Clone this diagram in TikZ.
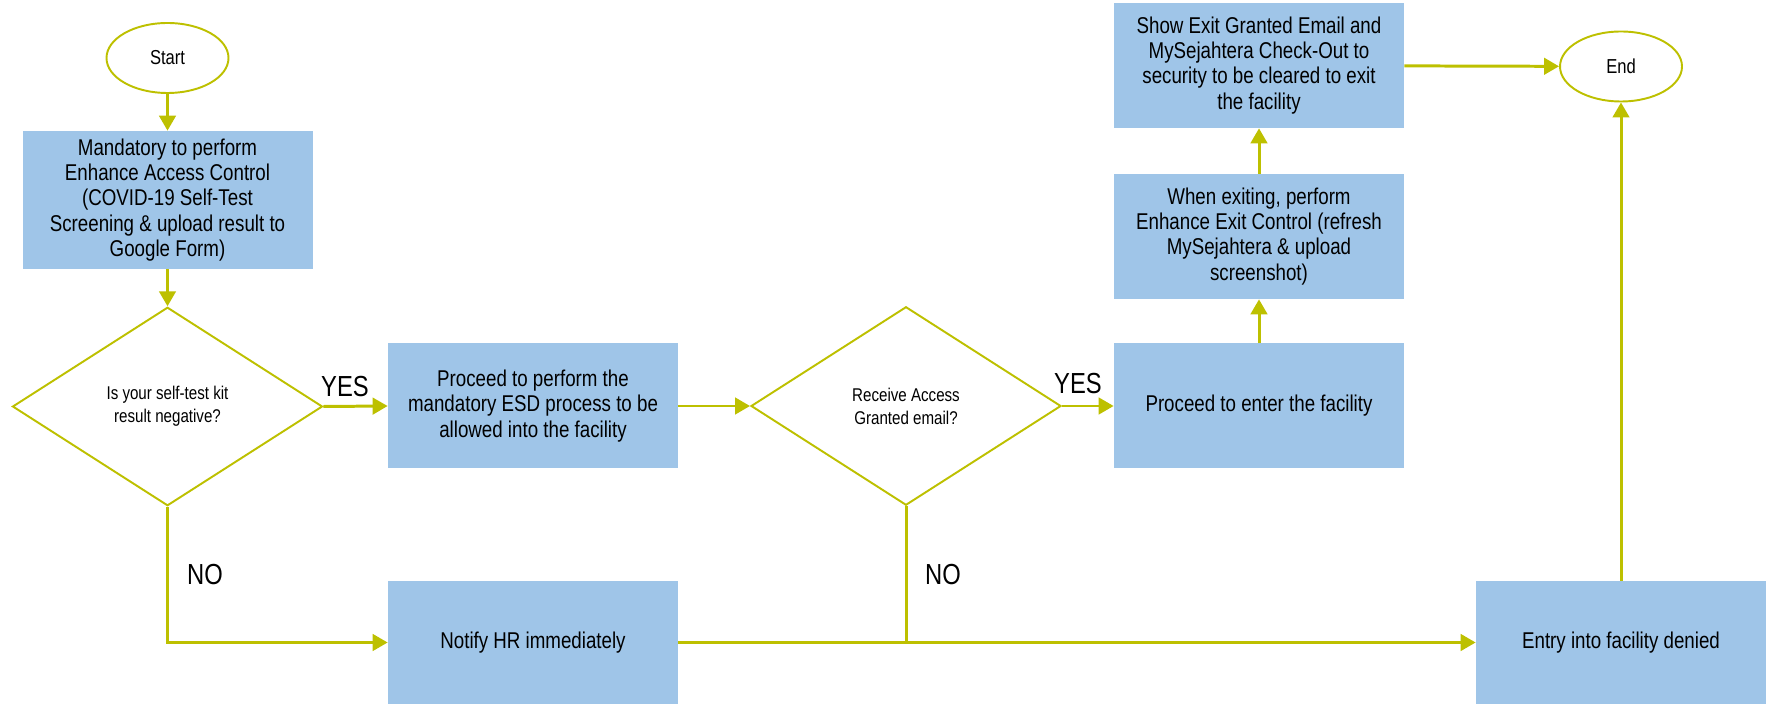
\documentclass[tikz,border=0pt]{standalone}
\usepackage{fontspec}
\setmainfont[FakeStretch=0.82]{Liberation Sans}
\usetikzlibrary{shapes.geometric,arrows.meta}
\definecolor{flowline}{RGB}{189,192,0}
\definecolor{boxfill}{RGB}{159,197,232}
\tikzset{
  stepbox/.style={fill=boxfill, minimum width=5.8cm, minimum height=2.5cm, inner sep=0pt, align=center, font=\fontsize{13}{14.3}\selectfont},
  terminal/.style={ellipse, draw=flowline, line width=1.1pt, minimum width=2.44cm, minimum height=1.4cm, inner sep=0pt, font=\fontsize{11.5}{13}\selectfont},
  decision/.style={diamond, draw=flowline, line width=1.1pt, minimum width=6.2cm, minimum height=3.97cm, inner sep=0pt, aspect=1.56, align=center, font=\fontsize{10.5}{13}\selectfont},
  flow/.style={draw=flowline, line width=1.7pt, -{Triangle[length=0.3cm,width=0.33cm]}},
  plain/.style={draw=flowline, line width=1.7pt},
  answer/.style={inner sep=0pt, font=\fontsize{16.5}{20}\selectfont}
}
\begin{document}
\begin{tikzpicture}
   \useasboundingbox (0,0) rectangle (35.32,14.08);
   \node (start) at (3.35,12.92) [terminal] {Start};
   \node (mand) at (3.35,10.08) [stepbox, minimum height=2.76cm] {Mandatory to perform\\Enhance Access Control\\(COVID-19 Self-Test\\Screening \& upload result to\\Google Form)};
   \node (dec1) at (3.35,5.95) [decision] {Is your self-test kit\\result negative?};
   \node (esd) at (10.66,5.96) [stepbox] {Proceed to perform the\\mandatory ESD process to be\\allowed into the facility};
   \node (notify) at (10.66,1.23) [stepbox, minimum height=2.46cm] {Notify HR immediately};
   \node (dec2) at (18.12,5.96) [decision] {Receive Access\\Granted email?};
   \node (enter) at (25.18,5.96) [stepbox] {Proceed to enter the facility};
   \node (exitctl) at (25.18,9.35) [stepbox] {When exiting, perform\\Enhance Exit Control (refresh\\MySejahtera \& upload\\screenshot)};
   \node (showexit) at (25.18,12.77) [stepbox] {Show Exit Granted Email and\\MySejahtera Check-Out to\\security to be cleared to exit\\the facility};
   \node (finish) at (32.42,12.75) [terminal] {End};
   \node (denied) at (32.42,1.23) [stepbox, minimum height=2.46cm] {Entry into facility denied};
   \node (yes1) at (6.90,6.34) [answer] {YES};
   \node (no1) at (4.10,2.58) [answer] {NO};
   \node (yes2) at (21.56,6.40) [answer] {YES};
   \node (no2) at (18.86,2.58) [answer] {NO};
   \coordinate (join) at (dec2.south |- notify.east);
   \draw [flow] (start) -- (mand);
   \draw [flow] (mand) -- (dec1);
   \draw [flow] (dec1.east) -- (esd.west);
   \draw [flow] (dec1.south) |- (notify.west);
   \draw [flow] (esd.east) -- (dec2.west);
   \draw [flow] (dec2.east) -- (enter.west);
   \draw [plain] (dec2.south) -- (join);
   \draw [flow] (notify.east) -- (denied.west);
   \draw [flow] (enter) -- (exitctl);
   \draw [flow] (exitctl) -- (showexit);
   \draw [flow] (showexit) -- (finish);
   \draw [flow] (denied) -- (finish);
\end{tikzpicture}
\end{document}
